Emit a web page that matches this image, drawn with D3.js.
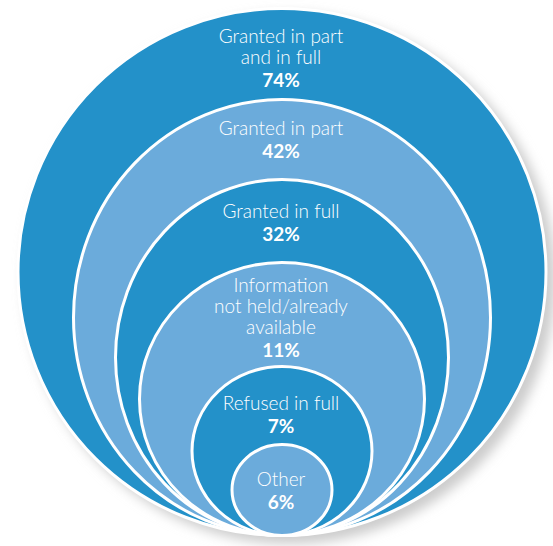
<!DOCTYPE html>
<html>
<head>
<meta charset="utf-8">
<script src="https://cdn.jsdelivr.net/npm/d3@7"></script>
<style>
  html, body { margin: 0; padding: 0; background: #ffffff; }
  svg { display: block; }
</style>
</head>
<body>
<svg id="chart" width="553" height="546"></svg>
<script>
// Outcome of requests, outer ring holds everything inside it
const categories = [
  "Granted in part and in full",
  "Granted in part",
  "Granted in full",
  "Information not held/already available",
  "Refused in full",
  "Other"
];
const values = [74, 42, 32, 11, 7, 6];
const labelLines = [
  ["Granted in part", "and in full"],
  ["Granted in part"],
  ["Granted in full"],
  ["Information", "not held/already", "available"],
  ["Refused in full"],
  ["Other"]
];

// Layout
const W = 553, H = 546;
const cx = 282;          // shared centre line
const baseY = 537;       // all shapes sit on this line
const stroke = 3;
const lineH = 21;
const labelOffset = [36, 37, 40, 31, 45, 43]; // first baseline below each shape's top

// Sorted value domain mapped onto the nested shape sizes
const domain = values.slice().sort((a, b) => a - b);
const rx = d3.scaleLinear().domain(domain).range([51.5, 91.5, 144, 168, 210, 265.5]);
const ry = d3.scaleLinear().domain(domain).range([47, 86, 138, 179.5, 219.5, 265]);
const fill = d3.scaleOrdinal().domain([0, 1]).range(["#2391c9", "#6babdb"]);

const svg = d3.select("#chart");

const defs = svg.append("defs");
defs.append("filter")
    .attr("id", "soft")
    .attr("x", "-20%").attr("y", "-20%")
    .attr("width", "140%").attr("height", "140%")
  .append("feGaussianBlur")
    .attr("stdDeviation", 6);

const rows = values.map((v, i) => ({
  name: categories[i],
  value: v,
  lines: labelLines[i],
  i: i,
  rx: rx(v),
  ry: ry(v)
}));

// drop shadow behind the outer ring
svg.append("ellipse")
  .attr("cx", cx + 8)
  .attr("cy", baseY - rows[0].ry + 7)
  .attr("rx", rows[0].rx)
  .attr("ry", rows[0].ry)
  .attr("fill", "#cccccc")
  .attr("filter", "url(#soft)");

svg.append("g")
  .selectAll("ellipse")
  .data(rows)
  .join("ellipse")
    .attr("cx", cx)
    .attr("cy", d => baseY - d.ry)
    .attr("rx", d => d.rx - stroke / 2)
    .attr("ry", d => d.ry - stroke / 2)
    .attr("fill", d => fill(d.i % 2))
    .attr("stroke", "#ffffff")
    .attr("stroke-width", stroke);

const labels = svg.append("g")
  .attr("font-family", "Lato, 'Noto Sans', sans-serif")
  .attr("fill", "#ffffff")
  .attr("text-anchor", "middle")
  .selectAll("text")
  .data(rows)
  .join("text")
    .attr("x", cx - 1)
    .attr("y", d => baseY - 2 * d.ry + labelOffset[d.i]);

labels.selectAll("tspan.name")
  .data(d => d.lines)
  .join("tspan")
    .attr("class", "name")
    .attr("x", cx - 1)
    .attr("dy", (t, j) => j === 0 ? 0 : lineH)
    .attr("font-size", 19)
    .attr("font-weight", 300)
    .text(t => t);

labels.append("tspan")
    .attr("x", cx - 1)
    .attr("dy", lineH + 2)
    .attr("font-size", 19)
    .attr("font-weight", "bold")
    .text(d => d.value + "%");
</script>
</body>
</html>
